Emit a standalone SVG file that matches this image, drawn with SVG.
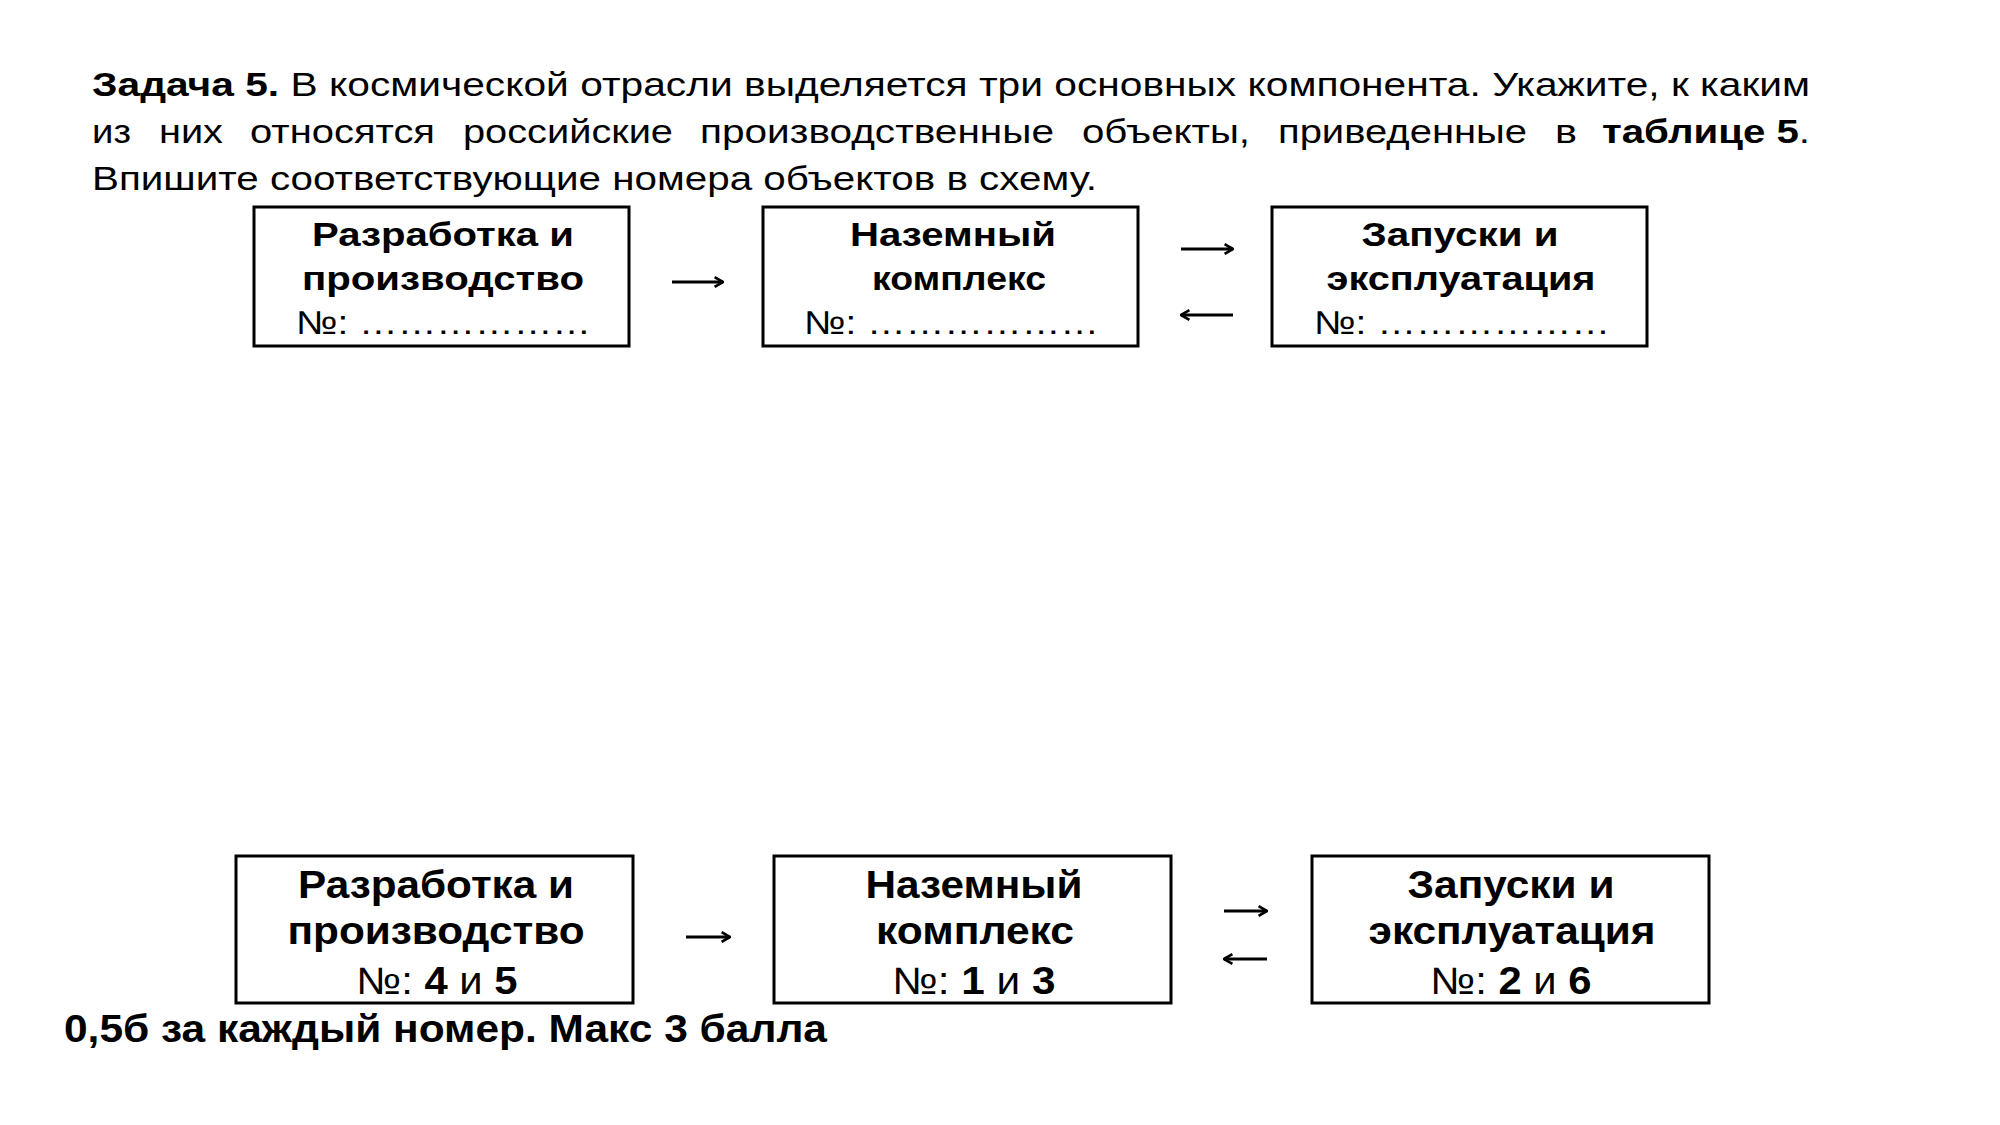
<svg xmlns="http://www.w3.org/2000/svg" width="2000" height="1125" viewBox="0 0 2000 1125">
<style>
  text { font-family: "Liberation Sans", Arial, sans-serif; fill: #000; }
  .t { font-size: 33px; }
  .b { font-weight: bold; }
  .bt { font-size: 33px; font-weight: bold; }
  .bn { font-size: 33px; }
  .lt { font-size: 38px; font-weight: bold; }
  .ln { font-size: 38px; }
  .box { fill: #fff; stroke: #000; stroke-width: 3; }
  .arr { stroke: #000; stroke-width: 3; fill: none; }
</style>
<defs>
  <marker id="ah" viewBox="0 0 10 10" refX="9" refY="5" markerWidth="4" markerHeight="4" orient="auto-start-reverse" markerUnits="strokeWidth">
    <path d="M2,1 L9,5 L2,9" fill="none" stroke="#000" stroke-width="2.2"/>
  </marker>
</defs>
<rect width="2000" height="1125" fill="#fff"/>

<g id="task-text">
  <text class="t" x="92" y="96" textLength="1718" lengthAdjust="spacingAndGlyphs"><tspan class="b">Задача 5.</tspan> В космической отрасли выделяется три основных компонента. Укажите, к каким</text>
  <text class="t" x="92" y="143" textLength="39" lengthAdjust="spacingAndGlyphs">из</text>
  <text class="t" x="159" y="143" textLength="64" lengthAdjust="spacingAndGlyphs">них</text>
  <text class="t" x="250" y="143" textLength="185" lengthAdjust="spacingAndGlyphs">относятся</text>
  <text class="t" x="463" y="143" textLength="210" lengthAdjust="spacingAndGlyphs">российские</text>
  <text class="t" x="700" y="143" textLength="354" lengthAdjust="spacingAndGlyphs">производственные</text>
  <text class="t" x="1082" y="143" textLength="168" lengthAdjust="spacingAndGlyphs">объекты,</text>
  <text class="t" x="1278" y="143" textLength="249" lengthAdjust="spacingAndGlyphs">приведенные</text>
  <text class="t" x="1555" y="143" textLength="22" lengthAdjust="spacingAndGlyphs">в</text>
  <text class="t" x="1602" y="143" textLength="208" lengthAdjust="spacingAndGlyphs"><tspan class="b">таблице 5</tspan>.</text>
  <text class="t" x="92" y="190" textLength="1005" lengthAdjust="spacingAndGlyphs">Впишите соответствующие номера объектов в схему.</text>
</g>

<g id="top-dev">
  <rect class="box" x="254" y="207" width="375" height="139"/>
  <text class="bt" x="443" y="246" text-anchor="middle" textLength="262" lengthAdjust="spacingAndGlyphs">Разработка и</text>
  <text class="bt" x="443" y="290" text-anchor="middle" textLength="282" lengthAdjust="spacingAndGlyphs">производство</text>
  <text class="bn" x="296" y="334" textLength="295" lengthAdjust="spacingAndGlyphs">№: ………………</text>
</g>
<g id="top-ground">
  <rect class="box" x="763" y="207" width="375" height="139"/>
  <text class="bt" x="953" y="246" text-anchor="middle" textLength="206" lengthAdjust="spacingAndGlyphs">Наземный</text>
  <text class="bt" x="959" y="290" text-anchor="middle" textLength="174" lengthAdjust="spacingAndGlyphs">комплекс</text>
  <text class="bn" x="804" y="334" textLength="295" lengthAdjust="spacingAndGlyphs">№: ………………</text>
</g>
<g id="top-launch">
  <rect class="box" x="1272" y="207" width="375" height="139"/>
  <text class="bt" x="1460" y="246" text-anchor="middle" textLength="197" lengthAdjust="spacingAndGlyphs">Запуски и</text>
  <text class="bt" x="1461" y="290" text-anchor="middle" textLength="269" lengthAdjust="spacingAndGlyphs">эксплуатация</text>
  <text class="bn" x="1314" y="334" textLength="296" lengthAdjust="spacingAndGlyphs">№: ………………</text>
</g>

<g id="bottom-dev">
  <rect class="box" x="236" y="856" width="397" height="147"/>
  <text class="lt" x="436" y="898" text-anchor="middle" textLength="276" lengthAdjust="spacingAndGlyphs">Разработка и</text>
  <text class="lt" x="436" y="944" text-anchor="middle" textLength="297" lengthAdjust="spacingAndGlyphs">производство</text>
  <text class="ln" x="437" y="994" text-anchor="middle" textLength="161" lengthAdjust="spacingAndGlyphs">№: <tspan class="b">4</tspan> и <tspan class="b">5</tspan></text>
</g>
<g id="bottom-ground">
  <rect class="box" x="774" y="856" width="397" height="147"/>
  <text class="lt" x="974" y="898" text-anchor="middle" textLength="217" lengthAdjust="spacingAndGlyphs">Наземный</text>
  <text class="lt" x="975" y="944" text-anchor="middle" textLength="198" lengthAdjust="spacingAndGlyphs">комплекс</text>
  <text class="ln" x="974" y="994" text-anchor="middle" textLength="163" lengthAdjust="spacingAndGlyphs">№: <tspan class="b">1</tspan> и <tspan class="b">3</tspan></text>
</g>
<g id="bottom-launch">
  <rect class="box" x="1312" y="856" width="397" height="147"/>
  <text class="lt" x="1511" y="898" text-anchor="middle" textLength="207" lengthAdjust="spacingAndGlyphs">Запуски и</text>
  <text class="lt" x="1512" y="944" text-anchor="middle" textLength="287" lengthAdjust="spacingAndGlyphs">эксплуатация</text>
  <text class="ln" x="1511" y="994" text-anchor="middle" textLength="161" lengthAdjust="spacingAndGlyphs">№: <tspan class="b">2</tspan> и <tspan class="b">6</tspan></text>
</g>

<g id="connectors">
  <line class="arr" x1="672" y1="282" x2="723" y2="282" marker-end="url(#ah)"/>
  <line class="arr" x1="1181" y1="249" x2="1233" y2="249" marker-end="url(#ah)"/>
  <line class="arr" x1="1233" y1="315" x2="1181" y2="315" marker-end="url(#ah)"/>
  <line class="arr" x1="686" y1="937" x2="730" y2="937" marker-end="url(#ah)"/>
  <line class="arr" x1="1224" y1="911" x2="1267" y2="911" marker-end="url(#ah)"/>
  <line class="arr" x1="1267" y1="959" x2="1224" y2="959" marker-end="url(#ah)"/>
</g>

<g id="footer">
  <text class="lt" x="64" y="1042" textLength="763" lengthAdjust="spacingAndGlyphs">0,5б за каждый номер. Макс 3 балла</text>
</g>
</svg>
